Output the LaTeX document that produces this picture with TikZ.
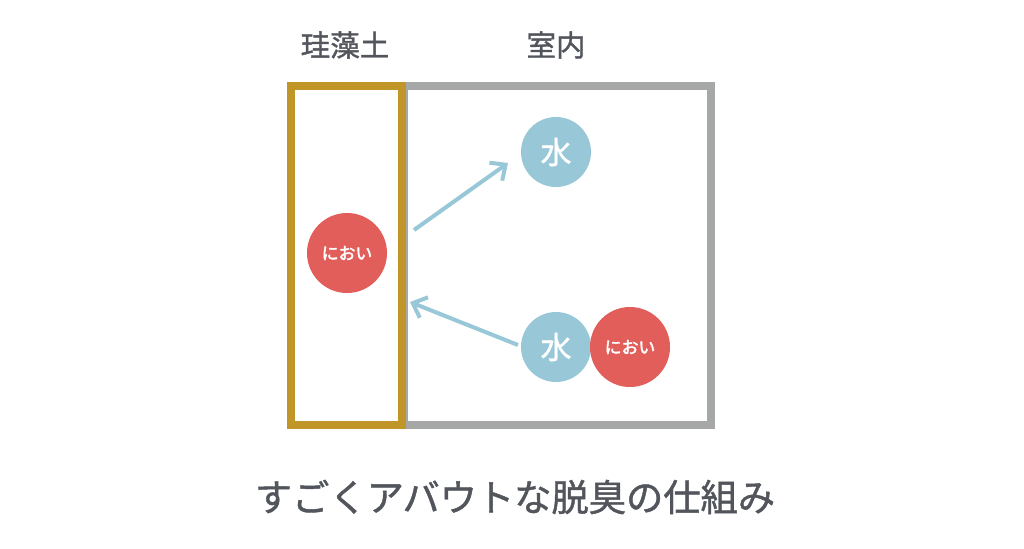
\documentclass[tikz,border=0pt]{standalone}
\usepackage{fontspec}
\newfontfamily\jpfont[FakeBold=1.2]{Noto Sans CJK JP}
\newfontfamily\jpbold[FakeBold=2.5]{Noto Sans CJK JP}
\usetikzlibrary{arrows.meta}
\definecolor{wallgold}{RGB}{193,150,40}
\definecolor{roomgray}{RGB}{166,168,168}
\definecolor{odorred}{RGB}{226,94,90}
\definecolor{waterblue}{RGB}{152,200,216}
\definecolor{textgray}{RGB}{82,86,92}
\tikzset{
  odor/.style={circle, fill=odorred, minimum size=2cm, inner sep=0pt, text=white, font=\jpbold\fontsize{12}{14}\selectfont},
  water/.style={circle, fill=waterblue, minimum size=1.75cm, inner sep=0pt, text=white, font=\jpfont\fontsize{22}{26}\selectfont},
  flow/.style={waterblue, line width=0.1cm, -{Straight Barb[length=0.3cm, width=0.55cm, line width=0.1cm]}},
  title/.style={text=textgray, font=\jpfont\fontsize{21}{25}\selectfont}
}
\begin{document}
\begin{tikzpicture}[x=0.025cm, y=-0.025cm]
  % fix the page size to the reference
  \useasboundingbox (0,0) rectangle (1024,548);

  % room and diatomite wall
  \draw[roomgray, line width=0.18cm] (404,86) rectangle (711,425);
  \draw[wallgold, line width=0.18cm] (291,86) rectangle (402,425);

  % headings
  \node[title] (wall) at (345,45) {珪藻土};
  \node[title] (room) at (556,45) {室内};

  % particles
  \node[odor] (odorin) at (347,253) {におい};
  \node[water] (waterout) at (556,152) {水};
  \node[water] (waterin) at (556,347) {水};
  \node[odor] (odorout) at (630,347) {におい};

  % arrow ends
  \coordinate (outstart) at (414,230);
  \coordinate (outend) at (508,163);
  \coordinate (instart) at (518,345);
  \coordinate (inend) at (410,302);

  \draw[flow] (outstart) -- (outend);
  \draw[flow] (instart) -- (inend);

  % caption
  \node[text=textgray, font=\jpfont\fontsize{26.5}{30}\selectfont] (caption) at (515,497) {すごくアバウトな脱臭の仕組み};
\end{tikzpicture}
\end{document}
